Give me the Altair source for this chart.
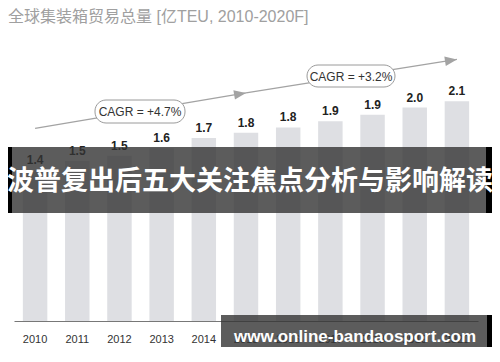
import math
import altair as alt
import pandas as pd

# ---- data ----
years = ["2010", "2011", "2012", "2013", "2014", "2015", "2016", "2017", "2018", "2019", "2020"]
values = [1.44, 1.53, 1.58, 1.65, 1.75, 1.80, 1.85, 1.91, 1.97, 2.04, 2.10]
labels = ["1.4", "1.5", "1.5", "1.6", "1.7", "1.8", "1.8", "1.9", "1.9", "2.0", "2.1"]

arrow_from = ["2010", "2015"]
arrow_to = ["2015", "2020"]
arrow_from_val = [1.84, 2.18]
arrow_to_val = [2.18, 2.50]
cagr_texts = ["CAGR = +4.7%", "CAGR = +3.2%"]

title_text = "全球集装箱贸易总量 [亿TEU, 2010-2020F]"
band_text = "波普复出后五大关注焦点分析与影响解读"
mark_text = "www.online-bandaosport.com"

W, H = 464, 293
YMAX = 2.8
LATIN = "Liberation Sans, Arial, Noto Sans CJK SC"
CJK = "Noto Sans CJK SC"

df = pd.DataFrame({"year": years, "value": values, "label": labels})

x = alt.X("year:O", title=None, sort=years,
          scale=alt.Scale(paddingInner=0.42, paddingOuter=0.21),
          axis=alt.Axis(labelAngle=0, ticks=False, domainColor="#777777",
                        labelColor="#333333", labelFont=LATIN, labelFontSize=11,
                        labelPadding=12, zindex=0))
y = alt.Y("value:Q", title=None, scale=alt.Scale(domain=[0, YMAX]), axis=None)

base = alt.Chart(df)
bars = base.mark_bar(color="#dedfe3").encode(x=x, y=y)
vals = base.mark_text(baseline="bottom", dy=-3, fontWeight="bold", fontSize=12,
                      font=LATIN, color="#222222").encode(x=x, y=y, text="label:N")

# arrows
step = W / len(years)
angles = []
for a, b, va, vb in zip(arrow_from, arrow_to, arrow_from_val, arrow_to_val):
    dx = (years.index(b) - years.index(a)) * step
    dy = (vb - va) * H / YMAX
    angles.append(360 - math.degrees(math.atan2(dy, dx)))
adf = pd.DataFrame({"a": arrow_from, "b": arrow_to, "va": arrow_from_val,
                    "vb": arrow_to_val, "ang": angles})
arrows = alt.Chart(adf).mark_rule(color="#a3a3a3", strokeWidth=1.3).encode(
    x=alt.X("a:O", sort=years), x2="b:O",
    y=alt.Y("va:Q", scale=alt.Scale(domain=[0, YMAX])), y2="vb:Q")
heads = alt.Chart(adf).mark_point(
    shape="M0,0L-2,-0.8L-2,0.8Z", filled=True, opacity=1, color="#a3a3a3", size=144
).encode(x=alt.X("b:O", sort=years), y=alt.Y("vb:Q", scale=alt.Scale(domain=[0, YMAX])),
         angle=alt.Angle("ang:Q", scale=None))

one = alt.Data(values=[{"k": 0}])

def box(x1, x2, y1, y2, **kw):
    return alt.Chart(one).mark_rect(**kw).encode(
        x=alt.value(x1), x2=alt.value(x2), y=alt.value(y1), y2=alt.value(y2))

def txt(s, xx, yy, **kw):
    return alt.Chart(one).mark_text(text=s, **kw).encode(x=alt.value(xx), y=alt.value(yy))

cagr1 = box(81, 171, 72, 95, fill="white", stroke="#9a9a9a", strokeWidth=1, cornerRadius=11)
cagr2 = box(293, 381, 37, 59, fill="white", stroke="#9a9a9a", strokeWidth=1, cornerRadius=11)
cagr1t = txt(cagr_texts[0], 126, 84, font=LATIN, fontSize=12, color="#333333", baseline="middle")
cagr2t = txt(cagr_texts[1], 337, 48.5, font=LATIN, fontSize=12, color="#333333", baseline="middle")

title = txt(title_text, -6, -11.5, font=LATIN, fontSize=16, color="#a0a0a0",
            align="left", baseline="middle")

band = box(-6, 478, 119, 185, fill="#333333", opacity=0.8)
band_l = box(-6, -2, 119, 185, fill="#000000")
band_r = box(472, 478, 119, 185, fill="#000000")
band_t = txt(band_text, 236, 154, font=CJK, fontSize=27, fontWeight="bold",
             color="white", baseline="middle")

wm = box(207, 473, 287, 330, fill="#333333", opacity=0.8)
wm_r = box(473, 478, 287, 330, fill="#000000")
wm_t = txt(mark_text, 341, 309, font=LATIN, fontSize=17, fontWeight="bold",
           color="white", baseline="middle")

chart = alt.layer(
    bars, vals, arrows, heads, cagr1, cagr2, cagr1t, cagr2t, title,
    band, band_l, band_r, band_t, wm, wm_r, wm_t
).properties(
    width=W, height=H,
    padding={"left": 6, "top": 20, "right": 14, "bottom": 26},
    autosize=alt.AutoSizeParams(type="none"),
    background="white",
).configure_view(stroke=None)

chart.save("out.html", embed_options={"renderer": "svg", "actions": False})
